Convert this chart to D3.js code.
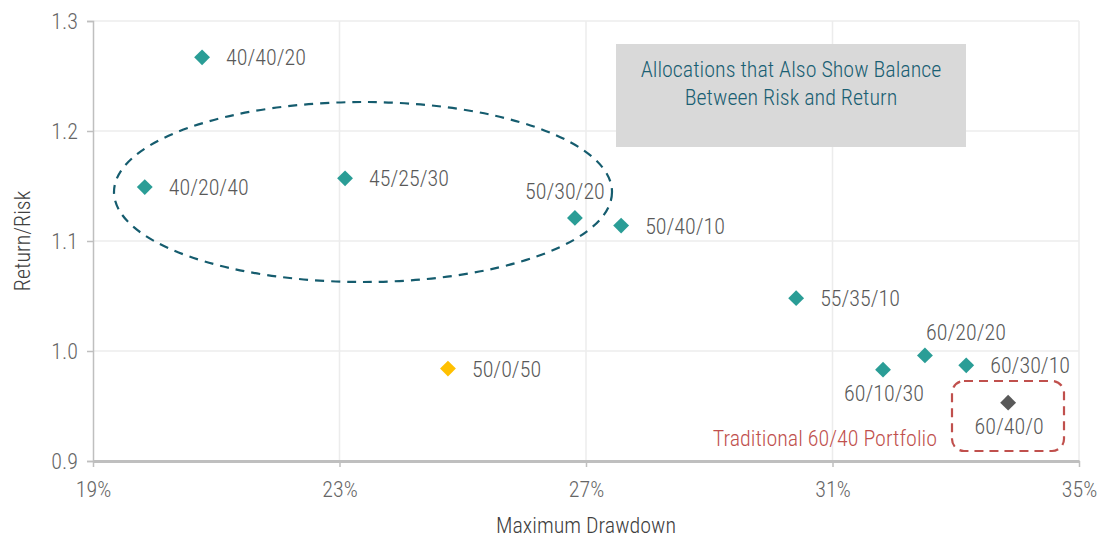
<!DOCTYPE html>
<html>
<head>
<meta charset="utf-8">
<script src="https://cdn.jsdelivr.net/npm/d3@7/dist/d3.min.js"></script>
<style>
  html, body { margin: 0; padding: 0; background: #fff; }
  svg { display: block; }
  text { font-family: "Roboto Condensed", Roboto, "Liberation Sans Narrow", sans-serif; }
</style>
</head>
<body>
<svg id="chart" width="1113" height="539"></svg>
<script>
// Allocation mixes (stocks/bonds/alternatives)
const allocations = ["40/40/20", "40/20/40", "45/25/30", "50/30/20", "50/40/10", "55/35/10", "60/20/20", "60/10/30", "60/30/10", "60/40/0", "50/0/50"];
// Maximum drawdown, percent
const drawdown = [20.77, 19.84, 23.09, 26.82, 27.57, 30.41, 32.5, 31.82, 33.17, 33.85, 24.76];
// Return / risk ratio
const returnRisk = [1.267, 1.149, 1.157, 1.121, 1.114, 1.048, 0.996, 0.983, 0.987, 0.953, 0.984];
// Marker group per allocation
const group = ["mix", "mix", "mix", "mix", "mix", "mix", "mix", "mix", "mix", "traditional", "balanced"];
// Where each label sits relative to its marker
const labelSide = ["right", "right", "right", "aboveLeft", "right", "right", "above", "below", "right", "below", "right"];

const xTicks = [19, 23, 27, 31, 35];
const yTicks = [0.9, 1.0, 1.1, 1.2, 1.3];

const colors = { mix: "#2a9d96", traditional: "#595959", balanced: "#ffc000" };

const svg = d3.select("#chart");
const margin = { left: 93, right: 34, top: 21, bottom: 78 };
const W = 1113, H = 539;

const x = d3.scaleLinear().domain([19, 35]).range([margin.left, W - margin.right]);
const y = d3.scaleLinear().domain([0.9, 1.3]).range([H - margin.bottom, margin.top]);

// gridlines
svg.append("g").selectAll("line").data(yTicks.slice(1)).join("line")
  .attr("x1", x(19)).attr("x2", x(35))
  .attr("y1", d => y(d)).attr("y2", d => y(d))
  .attr("stroke", "#ececec").attr("stroke-width", 1.5);
svg.append("g").selectAll("line").data(xTicks.slice(1)).join("line")
  .attr("x1", d => x(d)).attr("x2", d => x(d))
  .attr("y1", y(0.9)).attr("y2", y(1.3))
  .attr("stroke", "#ececec").attr("stroke-width", 1.5);

// axes
const yAxis = svg.append("g").attr("transform", `translate(${margin.left},0)`)
  .call(d3.axisLeft(y).tickValues(yTicks).tickFormat(d3.format(".1f")).tickSize(6).tickPadding(9));
yAxis.select(".domain").attr("stroke", "#bfbfbf").attr("stroke-width", 1.5);
yAxis.selectAll(".tick line").attr("stroke", "#bfbfbf").attr("stroke-width", 1.5);
yAxis.selectAll(".tick text").attr("fill", "#666").style("font-size", "22px").style("font-weight", 300);

const xAxis = svg.append("g").attr("transform", `translate(0,${y(0.9)})`)
  .call(d3.axisBottom(x).tickValues(xTicks).tickFormat(d => d + "%").tickSize(6).tickPadding(14).tickSizeOuter(0));
xAxis.select(".domain").attr("stroke", "#bfbfbf").attr("stroke-width", 3);
xAxis.selectAll(".tick line").attr("stroke", "#bfbfbf").attr("stroke-width", 1.5);
xAxis.selectAll(".tick text").attr("fill", "#666").style("font-size", "22px").style("font-weight", 300);

// axis titles
svg.append("text").attr("x", x(27)).attr("y", 533).attr("text-anchor", "middle")
  .attr("fill", "#404040").style("font-size", "22px").style("font-weight", 300).text("Maximum Drawdown");
svg.append("text").attr("transform", `translate(30,${y(1.1)}) rotate(-90)`).attr("text-anchor", "middle")
  .attr("fill", "#404040").style("font-size", "22px").style("font-weight", 300).text("Return/Risk");

// callout box
const boxX0 = 616, boxX1 = 966, boxY0 = 44, boxY1 = 147;
svg.append("rect").attr("x", boxX0).attr("y", boxY0).attr("width", boxX1 - boxX0).attr("height", boxY1 - boxY0)
  .attr("fill", "#d9d9d9");
const calloutLines = ["Allocations that Also Show Balance", "Between Risk and Return"];
svg.append("g").selectAll("text").data(calloutLines).join("text")
  .attr("x", (boxX0 + boxX1) / 2).attr("y", (d, i) => 77 + i * 28)
  .attr("text-anchor", "middle").attr("fill", "#1a5f73").style("font-size", "22px").style("font-weight", 300).text(d => d);

// dashed ellipse around the balanced cluster
svg.append("ellipse").attr("cx", 363).attr("cy", 192).attr("rx", 249).attr("ry", 90)
  .attr("fill", "none").attr("stroke", "#155c6e").attr("stroke-width", 2.2)
  .attr("stroke-dasharray", "9,7");

// dashed rounded rectangle around the traditional portfolio
svg.append("rect").attr("x", 952).attr("y", 381).attr("width", 112).attr("height", 70).attr("rx", 12)
  .attr("fill", "none").attr("stroke", "#c0504d").attr("stroke-width", 2.2).attr("stroke-dasharray", "9,6");
svg.append("text").attr("x", 937).attr("y", 446).attr("text-anchor", "end")
  .attr("fill", "#c0504d").style("font-size", "22px").style("font-weight", 300).text("Traditional 60/40 Portfolio");

// markers
const pts = allocations.map((name, i) => ({ name, dd: drawdown[i], rr: returnRisk[i], g: group[i], side: labelSide[i] }));
const diamond = d3.symbol().type(d3.symbolDiamond2).size(160);
svg.append("g").selectAll("path").data(pts).join("path")
  .attr("d", diamond)
  .attr("transform", d => `translate(${x(d.dd)},${y(d.rr)})`)
  .attr("fill", d => colors[d.g]);

// labels
svg.append("g").selectAll("text").data(pts).join("text")
  .attr("fill", "#595959").style("font-size", "22px").style("font-weight", 300)
  .text(d => d.name)
  .each(function (d) {
    const t = d3.select(this);
    const px = x(d.dd), py = y(d.rr);
    if (d.side === "right") {
      t.attr("x", px + 24).attr("y", py + 8).attr("text-anchor", "start");
    } else if (d.side === "above") {
      t.attr("x", px + 41).attr("y", py - 15).attr("text-anchor", "middle");
    } else if (d.side === "aboveLeft") {
      t.attr("x", px - 10).attr("y", py - 19).attr("text-anchor", "middle");
    } else if (d.side === "below") {
      t.attr("x", px + 1).attr("y", py + 31).attr("text-anchor", "middle");
    }
  });
</script>
</body>
</html>
